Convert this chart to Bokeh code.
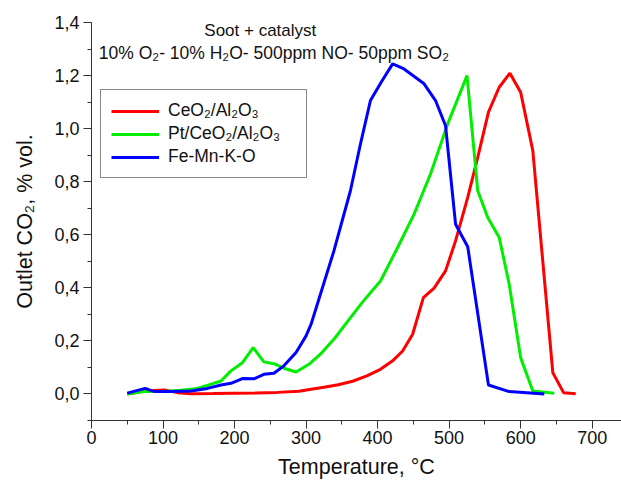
from bokeh.plotting import figure
from bokeh.models import (Range1d, SingleIntervalTicker, CustomJSTickFormatter,
                          Legend, LegendItem, Label)
from bokeh.embed import file_html
from bokeh.resources import INLINE

# ---- data ----
T_red = [50, 74, 102, 120, 139, 170, 200, 230, 260, 290, 307, 325, 345, 365, 385,
         404, 421, 435, 449, 464, 479, 495, 509, 526, 540, 555, 570, 585, 600, 617,
         645, 660, 677]
v_red = [0.0, 0.011, 0.015, 0.005, 0.001, 0.002, 0.003, 0.004, 0.006, 0.010, 0.018,
         0.025, 0.035, 0.048, 0.068, 0.093, 0.125, 0.162, 0.225, 0.363, 0.399, 0.464,
         0.577, 0.741, 0.892, 1.062, 1.156, 1.209, 1.137, 0.917, 0.080, 0.005, 0.001]

T_green = [50, 74, 102, 125, 148, 164, 181, 195, 211, 226, 241, 255, 269, 286, 304,
           320, 340, 360, 380, 404, 428, 451, 474, 498, 525, 540, 554, 570, 584, 600,
           617, 647]
v_green = [0.0, 0.009, 0.009, 0.014, 0.021, 0.034, 0.049, 0.087, 0.118, 0.175, 0.121,
           0.114, 0.097, 0.083, 0.112, 0.150, 0.210, 0.280, 0.350, 0.426, 0.552, 0.678,
           0.829, 1.018, 1.200, 0.766, 0.665, 0.590, 0.414, 0.137, 0.011, 0.003]

T_blue = [50, 75, 88, 111, 139, 162, 181, 195, 211, 227, 241, 255, 269, 286, 300, 307,
          339, 362, 376, 390, 405, 421, 437, 465, 481, 495, 509, 526, 555, 584, 633]
v_blue = [0.003, 0.021, 0.009, 0.009, 0.011, 0.021, 0.034, 0.040, 0.058, 0.057, 0.074,
          0.078, 0.106, 0.156, 0.219, 0.263, 0.540, 0.766, 0.942, 1.106, 1.175, 1.244,
          1.225, 1.169, 1.106, 1.011, 0.640, 0.555, 0.034, 0.009, 0.0]

series_names = ["CeO\u2082/Al\u2082O\u2083", "Pt/CeO\u2082/Al\u2082O\u2083", "Fe-Mn-K-O"]
series_colors = ["#ff0000", "#00ee00", "#0000ff"]

title_line1 = "Soot + catalyst"
title_line2 = "10% O\u2082- 10% H\u2082O- 500ppm NO- 50ppm SO\u2082"
x_label = "Temperature, \u00b0C"
y_label = "Outlet CO\u2082, % vol."

FONT = "Liberation Sans"

p = figure(width=621, height=483, output_backend="svg", toolbar_location=None,
           x_range=Range1d(0, 741), y_range=Range1d(-0.1, 1.4001),
           min_border_left=91, min_border_right=0, min_border_top=22,
           min_border_bottom=63)
p.outline_line_color = None
p.xgrid.visible = False
p.ygrid.visible = False
p.background_fill_color = "white"
p.border_fill_color = "white"

renderers = []
for T, v, c in zip([T_red, T_green, T_blue], [v_red, v_green, v_blue], series_colors):
    r = p.line(T, v, line_color=c, line_width=3)
    renderers.append(r)

# axes
p.xaxis.ticker = SingleIntervalTicker(interval=100, num_minor_ticks=2)
p.yaxis.ticker = SingleIntervalTicker(interval=0.2, num_minor_ticks=2)
p.yaxis.formatter = CustomJSTickFormatter(code="return tick.toFixed(1).replace('.', ',');")
for ax in (p.xaxis[0], p.yaxis[0]):
    ax.axis_line_color = "#333333"
    ax.major_tick_line_color = "#333333"
    ax.minor_tick_line_color = "#333333"
    ax.major_tick_out = 8
    ax.major_tick_in = 0
    ax.minor_tick_out = 4
    ax.minor_tick_in = 0
    ax.major_label_text_font = FONT
    ax.major_label_text_font_size = "18px"
    ax.major_label_text_color = "#111111"
    ax.axis_label_text_font = FONT
    ax.axis_label_text_font_size = "21.5px"
    ax.axis_label_text_font_style = "normal"
    ax.axis_label_text_color = "#111111"
p.xaxis.axis_label = x_label
p.yaxis.axis_label = y_label
p.xaxis.major_label_standoff = 2
p.xaxis.axis_label_standoff = 8
p.yaxis.major_label_standoff = 4
p.yaxis.axis_label_standoff = 14

# legend
items = [LegendItem(label=n, renderers=[r]) for n, r in zip(series_names, renderers)]
legend = Legend(items=items, location=(9, 242))
legend.border_line_color = "#111111"
legend.border_line_width = 1
legend.background_fill_alpha = 1
legend.padding = 10
legend.margin = 0
legend.spacing = 2
legend.glyph_width = 48
legend.glyph_height = 18
legend.label_height = 18
legend.label_width = 128
legend.label_standoff = 9
legend.label_text_font = FONT
legend.label_text_font_size = "17.5px"
legend.label_text_color = "#111111"
p.add_layout(legend, "center")

# title texts
p.add_layout(Label(x=236, y=1.37, text=title_line1, text_align="center",
                   text_baseline="alphabetic", text_font=FONT,
                   text_font_size="17px", text_color="#111111"))
p.add_layout(Label(x=255, y=1.285, text=title_line2, text_align="center",
                   text_baseline="alphabetic", text_font=FONT,
                   text_font_size="17.5px", text_color="#111111"))

open("out.html", "w").write(file_html(p, INLINE))
